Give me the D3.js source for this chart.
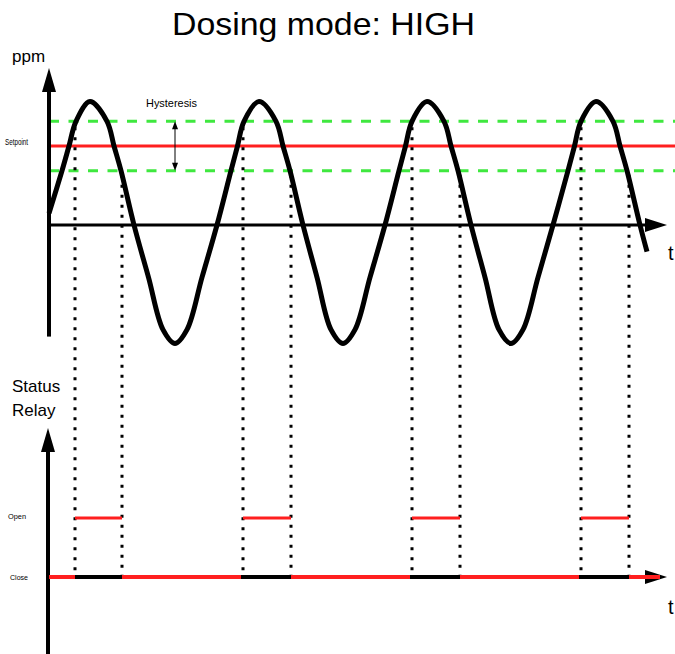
<!DOCTYPE html>
<html>
<head>
<meta charset="utf-8">
<script src="https://cdn.jsdelivr.net/npm/d3@7"></script>
<style>
  body { margin: 0; background: #fff; }
  svg { display: block; font-family: "Liberation Sans", Arial, sans-serif; }
</style>
</head>
<body>
<div id="chart"></div>
<script>
// values
const titleText = "Dosing mode: HIGH";
const setpoint = 8;
const hystHigh = 10.5;
const hystLow = 5.5;

// measured signal (time, ppm)
const waveT = [0, 13, 20, 27, 41, 58, 65, 72, 85, 99.5, 114, 126, 138, 153, 168,
  182, 188.5, 195, 210, 227, 234, 241, 254, 268, 282, 294, 306, 321, 336,
  350, 356.5, 363, 378, 395, 402, 409, 422, 436, 450, 462, 474, 489, 504,
  519, 525.5, 532, 547, 564, 571, 578, 591, 598];
const wavePpm = [1.2, 5.5, 8, 10.5, 12.5, 10.5, 8, 5.5, 0, -5.3, -10.6, -12, -10.6, -5.3, 0,
  5.5, 8, 10.5, 12.5, 10.5, 8, 5.5, 0, -5.3, -10.6, -12, -10.6, -5.3, 0,
  5.5, 8, 10.5, 12.5, 10.5, 8, 5.5, 0, -5.3, -10.6, -12, -10.6, -5.3, 0,
  5.5, 8, 10.5, 12.5, 10.5, 8, 5.5, 0, -2.7];

// relay switching times
const openTimes = [26, 194, 363, 532];
const closeTimes = [73, 242, 411, 580];
const closeStart = [0, 73, 242, 411, 580];
const closeEnd = [26, 192, 361, 530, 611];
const relayLabels = ["Close", "Open"];

// 1. Dimenzije
const width = 675, height = 654;
const green = "#3fe83f", red = "#ff1f1f";

const svg = d3.select("#chart").append("svg")
  .attr("width", width)
  .attr("height", height);

// 2. Mjerila
const x = d3.scaleLinear().domain([0, 626]).range([49, 675]);
const yTop = d3.scaleLinear().domain([0, 8]).range([225, 146]);
const yRelay = d3.scaleLinear().domain([0, 1]).range([577, 518]);

const wave = waveT.map((t, i) => ({ t, v: wavePpm[i] }));

// arrow helper
function arrowHead(g, tipX, tipY, dir, len, half) {
  let pts;
  if (dir === "up") pts = [[tipX, tipY], [tipX - half, tipY + len], [tipX + half, tipY + len]];
  else if (dir === "down") pts = [[tipX, tipY], [tipX - half, tipY - len], [tipX + half, tipY - len]];
  else pts = [[tipX, tipY], [tipX - len, tipY - half], [tipX - len, tipY + half]];
  g.append("path").attr("d", d3.line()(pts) + "Z").attr("fill", "#000");
}

// title
svg.append("text")
  .attr("x", 172).attr("y", 35)
  .attr("font-size", 32)
  .attr("textLength", 303)
  .attr("lengthAdjust", "spacingAndGlyphs")
  .text(titleText);

// ---------- gornji graf ----------
const gornji = svg.append("g");

// setpoint + hysteresis
gornji.append("line")
  .attr("x1", x(0)).attr("x2", x(626))
  .attr("y1", yTop(setpoint)).attr("y2", yTop(setpoint))
  .attr("stroke", red).attr("stroke-width", 3);

[hystHigh, hystLow].forEach(h => {
  gornji.append("line")
    .attr("x1", x(0)).attr("x2", x(626))
    .attr("y1", yTop(h)).attr("y2", yTop(h))
    .attr("stroke", green).attr("stroke-width", 3)
    .attr("stroke-dasharray", "10 9.5");
});

// dotted switching lines
openTimes.forEach(t => {
  svg.append("line")
    .attr("x1", x(t)).attr("x2", x(t))
    .attr("y1", yTop(hystHigh) + 6).attr("y2", yRelay(0))
    .attr("stroke", "#000").attr("stroke-width", 3)
    .attr("stroke-dasharray", "3 7");
});
closeTimes.forEach(t => {
  svg.append("line")
    .attr("x1", x(t)).attr("x2", x(t))
    .attr("y1", yTop(hystLow) + 4).attr("y2", yRelay(0))
    .attr("stroke", "#000").attr("stroke-width", 3)
    .attr("stroke-dasharray", "3 7");
});

// axes
gornji.append("line")
  .attr("x1", x(0)).attr("x2", x(598))
  .attr("y1", yTop(0)).attr("y2", yTop(0))
  .attr("stroke", "#000").attr("stroke-width", 3);
arrowHead(gornji, x(618), yTop(0), "right", 22, 7);
gornji.append("line")
  .attr("x1", x(0)).attr("x2", x(0))
  .attr("y1", yTop(14)).attr("y2", yTop(-11.3))
  .attr("stroke", "#000").attr("stroke-width", 4);
arrowHead(gornji, x(0), yTop(15.9), "up", 24, 7);

// wave
gornji.append("path")
  .datum(wave)
  .attr("d", d3.line().x(d => x(d.t)).y(d => yTop(d.v)).curve(d3.curveCatmullRom.alpha(0.5)))
  .attr("fill", "none")
  .attr("stroke", "#000")
  .attr("stroke-width", 5)
  .attr("stroke-linecap", "butt");

// hysteresis arrow
gornji.append("line")
  .attr("x1", x(126)).attr("x2", x(126))
  .attr("y1", yTop(hystHigh) + 3).attr("y2", yTop(hystLow) - 3)
  .attr("stroke", "#000").attr("stroke-width", 1);
arrowHead(gornji, x(126), yTop(hystHigh), "up", 8, 3);
arrowHead(gornji, x(126), yTop(hystLow), "down", 8, 3);

gornji.append("text")
  .attr("x", 146).attr("y", 107)
  .attr("font-size", 11)
  .attr("textLength", 51)
  .attr("lengthAdjust", "spacingAndGlyphs")
  .text("Hysteresis");

gornji.append("text")
  .attr("x", 5).attr("y", yTop(setpoint) - 1)
  .attr("font-size", 9)
  .attr("textLength", 23)
  .attr("lengthAdjust", "spacingAndGlyphs")
  .text("Setpoint");

gornji.append("text")
  .attr("x", 12).attr("y", 62)
  .attr("font-size", 17)
  .text("ppm");

gornji.append("text")
  .attr("x", 668).attr("y", 260)
  .attr("font-size", 20)
  .text("t");

// ---------- relej graf ----------
const rel = svg.append("g");

rel.append("line")
  .attr("x1", x(-1)).attr("x2", x(598))
  .attr("y1", yRelay(0)).attr("y2", yRelay(0))
  .attr("stroke", "#000").attr("stroke-width", 4);
arrowHead(rel, x(618), yRelay(0), "right", 22, 7);

rel.append("line")
  .attr("x1", x(-1)).attr("x2", x(-1))
  .attr("y1", 450).attr("y2", height)
  .attr("stroke", "#000").attr("stroke-width", 4);
arrowHead(rel, x(-1), 428, "up", 24, 7);

// relay state segments
closeStart.forEach((s, i) => {
  rel.append("line")
    .attr("x1", x(s)).attr("x2", x(closeEnd[i]))
    .attr("y1", yRelay(0)).attr("y2", yRelay(0))
    .attr("stroke", red).attr("stroke-width", 4);
});
openTimes.forEach((s, i) => {
  rel.append("line")
    .attr("x1", x(s)).attr("x2", x(closeTimes[i]))
    .attr("y1", yRelay(1)).attr("y2", yRelay(1))
    .attr("stroke", red).attr("stroke-width", 3);
});

relayLabels.forEach((lab, i) => {
  rel.append("text")
    .attr("x", i === 0 ? 10 : 8)
    .attr("y", yRelay(i) + (i === 0 ? 3 : 1))
    .attr("font-size", 8)
    .attr("textLength", 18)
    .attr("lengthAdjust", "spacingAndGlyphs")
    .text(lab);
});

rel.append("text").attr("x", 12).attr("y", 392).attr("font-size", 17).text("Status");
rel.append("text").attr("x", 12).attr("y", 416).attr("font-size", 17).text("Relay");

rel.append("text")
  .attr("x", 668).attr("y", 614)
  .attr("font-size", 20)
  .text("t");
</script>
</body>
</html>
